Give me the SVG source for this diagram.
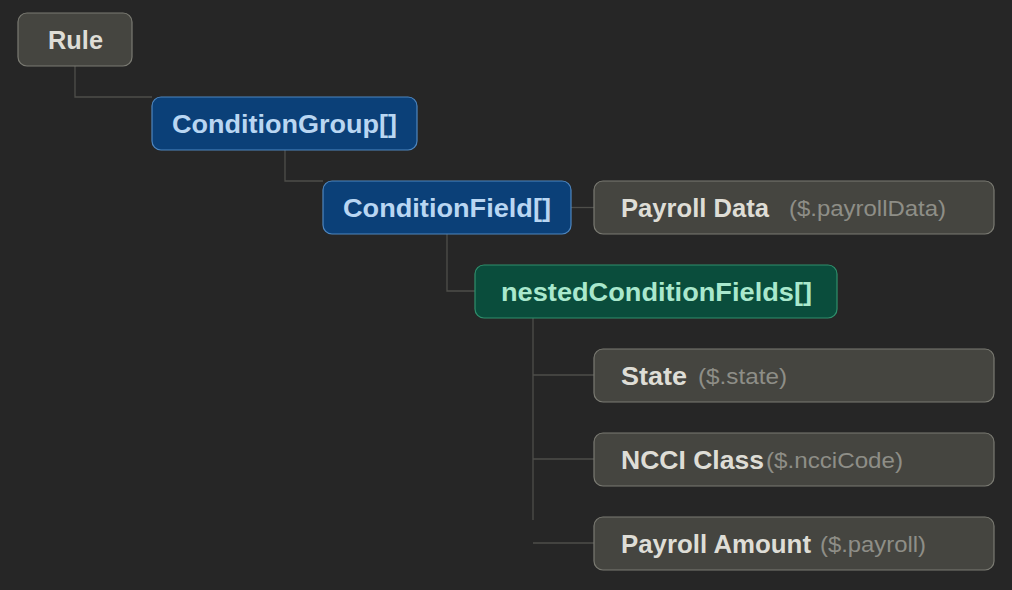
<svg xmlns="http://www.w3.org/2000/svg" width="1012" height="590" viewBox="0 0 1012 590">
<style>
.bg{fill:#262626}
.gray rect{fill:#454540;stroke:#7a7a72;stroke-width:1.2}
.blue rect{fill:#0b4078;stroke:#4d86c0;stroke-width:1.2}
.green rect{fill:#0a4d3c;stroke:#2f8f6c;stroke-width:1.2}
text{font-family:"Liberation Sans",Arial,sans-serif;font-size:25.5px;font-weight:bold}
.gray text{fill:#deddd6}
.blue text{fill:#b9d6f2}
.green text{fill:#a9e8cd}
.gray text.sub{fill:#8e8e87;font-weight:normal;font-size:22px}
#connectors path{fill:none;stroke:#4e4e4a;stroke-width:1.3}
</style>
<rect class="bg" x="0" y="0" width="1012" height="590"/>
<g id="connectors">
<path d="M75 66V97H152"/>
<path d="M285 150V181H323"/>
<path d="M571 207.5H594"/>
<path d="M447 234V291H475"/>
<path d="M533 318V520"/>
<path d="M533 375H594"/>
<path d="M533 459H594"/>
<path d="M533 543H594"/>
</g>
<g id="rule" class="gray"><rect x="18" y="13" width="114" height="53" rx="9"/><text x="48" y="49" textLength="55" lengthAdjust="spacingAndGlyphs">Rule</text></g>
<g id="conditionGroup" class="blue"><rect x="152" y="97" width="265" height="53" rx="9"/><text x="172" y="133" textLength="225" lengthAdjust="spacingAndGlyphs">ConditionGroup[]</text></g>
<g id="conditionField" class="blue"><rect x="323" y="181" width="248" height="53" rx="9"/><text x="343" y="217" textLength="208" lengthAdjust="spacingAndGlyphs">ConditionField[]</text></g>
<g id="payrollData" class="gray"><rect x="594" y="181" width="400" height="53" rx="9"/><text x="621" y="217" textLength="148" lengthAdjust="spacingAndGlyphs">Payroll Data</text><text class="sub" x="789" y="216" textLength="157" lengthAdjust="spacingAndGlyphs">($.payrollData)</text></g>
<g id="nestedConditionFields" class="green"><rect x="475" y="265" width="362" height="53" rx="9"/><text x="501" y="301" textLength="311" lengthAdjust="spacingAndGlyphs">nestedConditionFields[]</text></g>
<g id="state" class="gray"><rect x="594" y="349" width="400" height="53" rx="9"/><text x="621" y="385" textLength="66" lengthAdjust="spacingAndGlyphs">State</text><text class="sub" x="698" y="384" textLength="89" lengthAdjust="spacingAndGlyphs">($.state)</text></g>
<g id="ncciClass" class="gray"><rect x="594" y="433" width="400" height="53" rx="9"/><text x="621" y="469" textLength="143" lengthAdjust="spacingAndGlyphs">NCCI Class</text><text class="sub" x="766" y="468" textLength="137" lengthAdjust="spacingAndGlyphs">($.ncciCode)</text></g>
<g id="payrollAmount" class="gray"><rect x="594" y="517" width="400" height="53" rx="9"/><text x="621" y="553" textLength="190" lengthAdjust="spacingAndGlyphs">Payroll Amount</text><text class="sub" x="820" y="552" textLength="106" lengthAdjust="spacingAndGlyphs">($.payroll)</text></g>
</svg>
